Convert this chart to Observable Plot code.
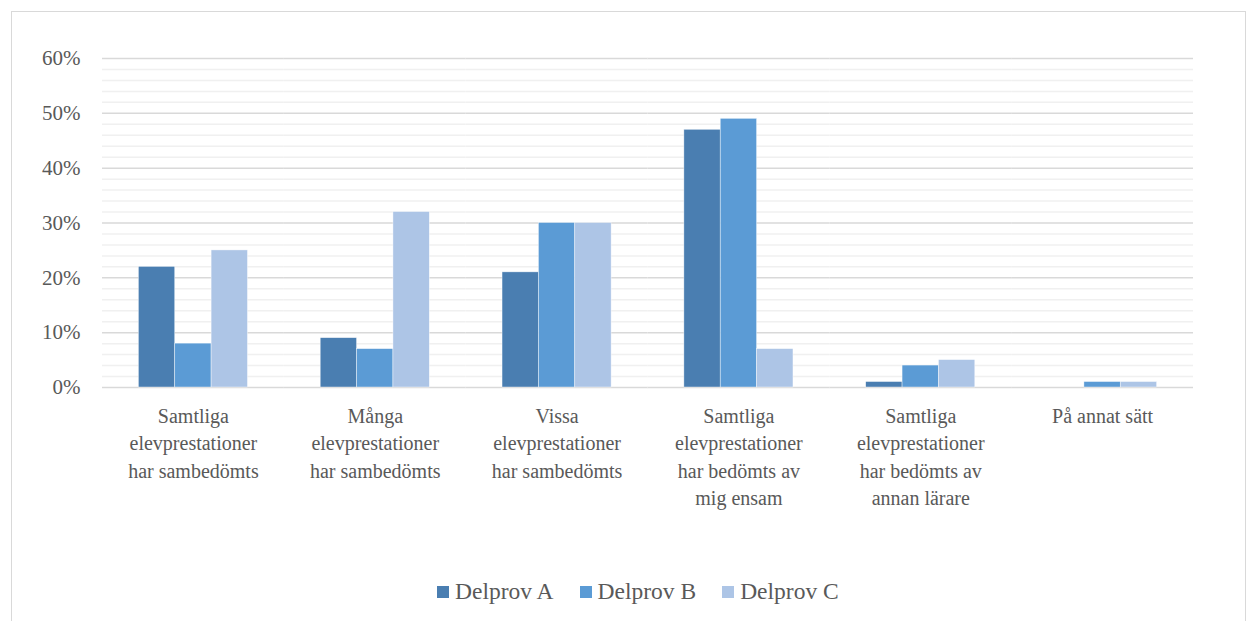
<!DOCTYPE html>
<html>
<head>
<meta charset="utf-8">
<script src="https://cdn.jsdelivr.net/npm/d3@7"></script>
<script src="https://cdn.jsdelivr.net/npm/@observablehq/plot@0.6"></script>
<style>
  html, body { margin: 0; padding: 0; background: #fff; width: 1248px; height: 621px; overflow: hidden; }
  #frame { position: absolute; left: 11px; top: 11px; width: 1235px; height: 700px; border: 1.5px solid #d9d9d9; box-sizing: border-box; }
  #chart { position: absolute; left: 0; top: 0; }
  #chart svg text { font-family: "Liberation Serif", serif !important; }
  #legend { position: absolute; left: 437px; top: 578px; display: flex; align-items: center; font-family: "Liberation Serif", serif; font-size: 23.5px; color: #595959; }
  .item { display: flex; align-items: center; margin-right: 26px; }
  .sw { width: 12px; height: 12px; margin-right: 6px; }
</style>
</head>
<body>
<div id="frame"></div>
<div id="chart"></div>
<div id="legend"></div>
<script>
const categories = [
  "Samtliga elevprestationer har sambedömts",
  "Många elevprestationer har sambedömts",
  "Vissa elevprestationer har sambedömts",
  "Samtliga elevprestationer har bedömts av mig ensam",
  "Samtliga elevprestationer har bedömts av annan lärare",
  "På annat sätt"
];
const tickLabels = [
  "Samtliga\nelevprestationer\nhar sambedömts",
  "Många\nelevprestationer\nhar sambedömts",
  "Vissa\nelevprestationer\nhar sambedömts",
  "Samtliga\nelevprestationer\nhar bedömts av\nmig ensam",
  "Samtliga\nelevprestationer\nhar bedömts av\nannan lärare",
  "På annat sätt"
];
const series = ["Delprov A", "Delprov B", "Delprov C"];
const delprovA = [22, 9, 21, 47, 1, 0];
const delprovB = [8, 7, 30, 49, 4, 1];
const delprovC = [25, 32, 30, 7, 5, 1];
const yTicks = [0, 10, 20, 30, 40, 50, 60];
const colors = ["#4a7eb1", "#5b9bd5", "#adc5e6"];

const values = [delprovA, delprovB, delprovC];
const data = categories.flatMap((c, i) => series.map((s, j) => ({category: c, series: s, value: values[j][i]})));
const minorTicks = d3.range(0, 61, 2).filter(v => v % 10 !== 0);

const chart = Plot.plot({
  width: 1248,
  height: 530,
  marginLeft: 102,
  marginRight: 55,
  marginTop: 58,
  marginBottom: 143,
  style: {fontFamily: "Liberation Serif, serif", fontSize: "20px", color: "#595959", background: "transparent"},
  fx: {domain: categories, padding: 0, round: false, label: null},
  x: {domain: series, paddingInner: 0, paddingOuter: 1, round: false, axis: null},
  y: {domain: [0, 60]},
  color: {domain: series, range: colors},
  marks: [
    Plot.ruleY(minorTicks, {stroke: "#f0f0f0", strokeWidth: 1.5}),
    Plot.ruleY(yTicks, {stroke: "#d9d9d9", strokeWidth: 1.5}),
    Plot.barY(data, {fx: "category", x: "series", y: "value", fill: "series", stroke: "#ffffff", strokeWidth: 0.6, strokeOpacity: 0.7}),
    Plot.axisY(yTicks, {tickSize: 0, tickPadding: 22, tickFormat: d => d + "%", fontSize: 21, fill: "#595959", label: null, fontFamily: "Liberation Serif"}),
    Plot.axisFx({anchor: "bottom", tickSize: 0, tickPadding: 16, fontSize: 20, fill: "#595959", lineHeight: 1.37, label: null, fontFamily: "Liberation Serif",
      tickFormat: d => tickLabels[categories.indexOf(d)]})
  ]
});
document.getElementById("chart").appendChild(chart);

const legend = document.getElementById("legend");
series.forEach((s, i) => {
  const item = document.createElement("div");
  item.className = "item";
  const sw = document.createElement("div");
  sw.className = "sw";
  sw.style.background = colors[i];
  const t = document.createElement("span");
  t.textContent = s;
  item.appendChild(sw);
  item.appendChild(t);
  legend.appendChild(item);
});
</script>
</body>
</html>
